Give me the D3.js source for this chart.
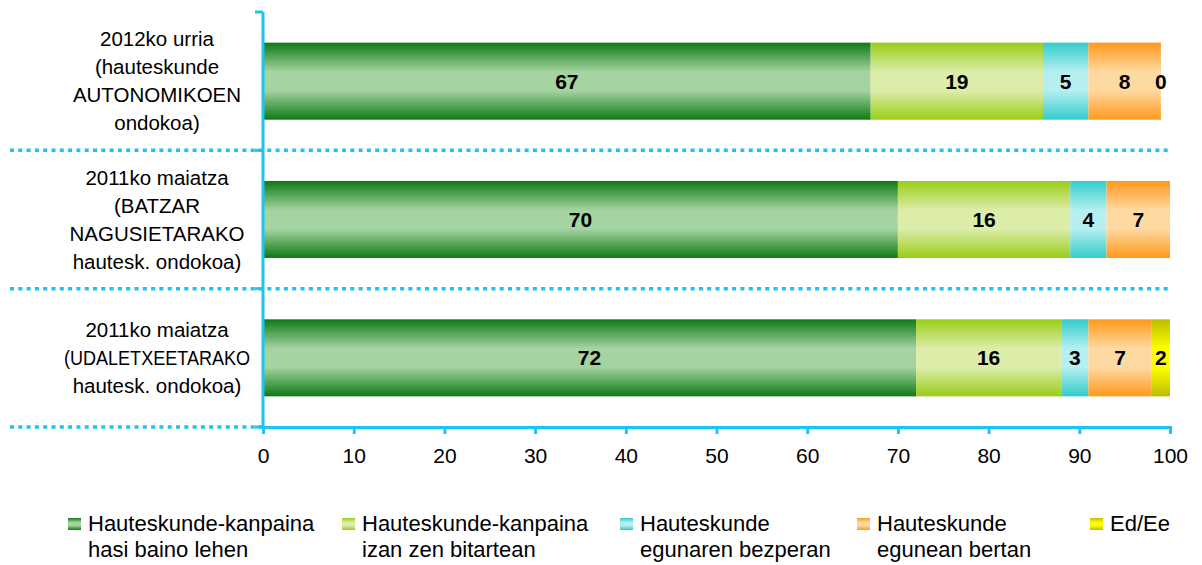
<!DOCTYPE html>
<html>
<head>
<meta charset="utf-8">
<script src="https://cdn.jsdelivr.net/npm/d3@7"></script>
<style>
    html, body { margin: 0; padding: 0; background: #fff; }
    svg { display: block; font-family: "Liberation Sans", Arial, sans-serif; }
</style>
</head>
<body>
<svg id="chart_svg"></svg>
<script>
(function() {
    'use strict';

    // categories, top to bottom
    var categories = ['c2012', 'c2011a', 'c2011b'];
    var categoryLines = [
        ['2012ko urria', '(hauteskunde', 'AUTONOMIKOEN', 'ondokoa)'],
        ['2011ko maiatza', '(BATZAR', 'NAGUSIETARAKO', 'hautesk. ondokoa)'],
        ['2011ko maiatza', '(UDALETXEETARAKO', 'hautesk. ondokoa)']
    ];

    // series values per category (bar widths as drawn), null = no value
    var seriesBefore = [67, 70, 72];
    var seriesDuring = [19, 19, 16];
    var seriesEve    = [5, 4, 3];
    var seriesDay    = [8, 7, 7];
    var seriesDk     = [0, null, 2];
    // labels printed on the bars (the middle bar prints 16 on a 19 wide segment)
    var duringLabels = ['19', '16', '16'];

    var seriesNames = [
        ['Hauteskunde-kanpaina', 'hasi baino lehen'],
        ['Hauteskunde-kanpaina', 'izan zen bitartean'],
        ['Hauteskunde', 'egunaren bezperan'],
        ['Hauteskunde', 'egunean bertan'],
        ['Ed/Ee']
    ];
    var xTicks = [0, 10, 20, 30, 40, 50, 60, 70, 80, 90, 100];

    var width = 1202, height = 565,
        plot = {left: 263, right: 1170, top: 12, bottom: 427},
        axisColor = '#1cc4f3',
        colors = [
            {dark: '#0e7a14', light: '#a5d4a2'},
            {dark: '#9acd18', light: '#dcedaa'},
            {dark: '#33cccc', light: '#b6efef'},
            {dark: '#ff991c', light: '#ffd9a2'},
            {dark: '#bdbd00', light: '#ffff00'}
        ],
        legendX = [68, 342, 620, 857, 1090];

    var values = [seriesBefore, seriesDuring, seriesEve, seriesDay, seriesDk];
    var labels = [
        seriesBefore.map(String),
        duringLabels,
        seriesEve.map(String),
        seriesDay.map(String),
        seriesDk.map(function(v) { return v == null ? null : String(v); })
    ];

    var svg = d3.select('svg#chart_svg')
        .attr('width', width)
        .attr('height', height);

    // gradients: dark edges, light middle
    var defs = svg.append('defs');
    colors.forEach(function(c, i) {
        var g = defs.append('linearGradient')
            .attr('id', 'grad' + i)
            .attr('x1', 0).attr('y1', 0).attr('x2', 0).attr('y2', 1);
        g.append('stop').attr('offset', '0%').attr('stop-color', c.dark);
        g.append('stop').attr('offset', '38%').attr('stop-color', c.light);
        g.append('stop').attr('offset', '62%').attr('stop-color', c.light);
        g.append('stop').attr('offset', '100%').attr('stop-color', c.dark);
    });

    var x = d3.scaleLinear()
        .domain([0, 100])
        .range([plot.left, plot.right]);

    var y = d3.scaleBand()
        .domain(categories)
        .range([plot.top, plot.bottom])
        .paddingInner(0.443)
        .paddingOuter(0.2215);

    // category boundaries
    var bounds = categories.map(function(c) {
        return y(c) - y.paddingInner() * y.step() / 2;
    });
    bounds.push(plot.bottom);

    // dotted separators
    svg.append('g')
        .attr('class', 'separators')
        .selectAll('line')
        .data(bounds.slice(1))
        .enter().append('line')
        .attr('x1', 10)
        .attr('x2', function(d, i) { return i === bounds.length - 2 ? plot.left : plot.right; })
        .attr('y1', function(d) { return d; })
        .attr('y2', function(d) { return d; })
        .attr('stroke', axisColor)
        .attr('stroke-width', 3.5)
        .attr('stroke-dasharray', '4,4.3');

    // stacked segments
    var stacked = [];
    categories.forEach(function(c, ci) {
        var acc = 0;
        values.forEach(function(s, si) {
            if (s[ci] == null) return;
            stacked.push({cat: c, series: si, x0: acc, x1: acc + s[ci], label: labels[si][ci]});
            acc += s[ci];
        });
    });

    var bars = svg.append('g').attr('class', 'bars');
    bars.selectAll('rect')
        .data(stacked)
        .enter().append('rect')
        .attr('x', function(d) { return x(d.x0); })
        .attr('y', function(d) { return y(d.cat); })
        .attr('width', function(d) { return x(d.x1) - x(d.x0); })
        .attr('height', y.bandwidth())
        .attr('fill', function(d) { return 'url(#grad' + d.series + ')'; });

    bars.selectAll('text')
        .data(stacked)
        .enter().append('text')
        .attr('x', function(d) { return (x(d.x0) + x(d.x1)) / 2; })
        .attr('y', function(d) { return y(d.cat) + y.bandwidth() / 2 + 7.5; })
        .attr('text-anchor', 'middle')
        .attr('font-size', '21px')
        .attr('font-weight', 'bold')
        .attr('fill', '#000')
        .text(function(d) { return d.label; });

    // x axis
    var xAxis = d3.axisBottom(x)
        .tickValues(xTicks)
        .tickSize(7)
        .tickSizeOuter(7)
        .tickPadding(14);
    var gx = svg.append('g')
        .attr('class', 'x axis')
        .attr('transform', 'translate(0,' + plot.bottom + ')')
        .call(xAxis);
    gx.select('.domain').attr('stroke', axisColor).attr('stroke-width', 3);
    gx.selectAll('.tick line').attr('stroke', axisColor).attr('stroke-width', 3);
    gx.selectAll('.tick text')
        .attr('fill', '#000')
        .attr('font-size', '21px')
        .attr('font-family', '"Liberation Sans", Arial, sans-serif');

    // y axis line with boundary ticks
    var gy = svg.append('g').attr('class', 'y axis');
    gy.append('line')
        .attr('x1', plot.left).attr('x2', plot.left)
        .attr('y1', plot.top).attr('y2', plot.bottom + 1.5)
        .attr('stroke', axisColor).attr('stroke-width', 3);
    gy.selectAll('.ytick')
        .data(bounds)
        .enter().append('line')
        .attr('class', 'ytick')
        .attr('x1', plot.left - 8).attr('x2', plot.left)
        .attr('y1', function(d) { return d; })
        .attr('y2', function(d) { return d; })
        .attr('stroke', axisColor).attr('stroke-width', 3);

    // category labels
    var catG = svg.append('g').attr('class', 'cat-labels');
    categories.forEach(function(c, ci) {
        var lines = categoryLines[ci],
            lh = 28,
            cy = y(c) + y.bandwidth() / 2,
            first = cy - (lines.length - 1) * lh / 2;
        var t = catG.append('text')
            .attr('text-anchor', 'middle')
            .attr('font-size', '20.5px')
            .attr('fill', '#000');
        lines.forEach(function(line, li) {
            var ts = t.append('tspan')
                .attr('x', 157)
                .attr('y', first + li * lh + 7)
                .text(line);
            // keep long lines clear of the axis
            if (ts.node().getComputedTextLength() > 188) {
                ts.attr('textLength', 186).attr('lengthAdjust', 'spacingAndGlyphs');
            }
        });
    });

    // legend
    var legend = svg.append('g').attr('class', 'legend');
    seriesNames.forEach(function(name, i) {
        var lx = legendX[i];
        legend.append('rect')
            .attr('x', lx).attr('y', 518)
            .attr('width', 13).attr('height', 12)
            .attr('fill', 'url(#grad' + i + ')');
        var t = legend.append('text')
            .attr('font-size', '22px')
            .attr('fill', '#000');
        name.forEach(function(line, li) {
            t.append('tspan')
                .attr('x', lx + 20)
                .attr('y', 531 + li * 26)
                .text(line);
        });
    });
})();
</script>
</body>
</html>
